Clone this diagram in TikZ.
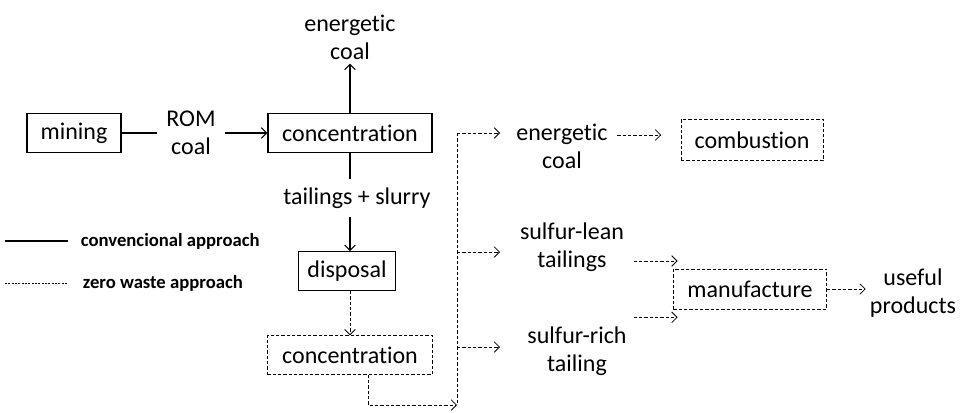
\documentclass[tikz,border=0pt]{standalone}
\usepackage{fontspec}
\setmainfont{Carlito}[Ligatures=NoCommon]
\usetikzlibrary{arrows.meta}

\tikzset{
	txt/.style={font=\fontsize{18}{21}\selectfont, align=center, inner sep=3pt},
	box/.style={txt, draw, line width=0.9pt, minimum height=29pt, inner sep=0pt},
	dbox/.style={box, line width=0.6pt, dash pattern=on 2.5pt off 1.5pt},
	conv/.style={line width=0.8pt, -{Straight Barb[length=4pt,width=8pt]}},
	zw/.style={line width=0.6pt, dash pattern=on 2.5pt off 1.5pt, -{Straight Barb[length=4pt,width=8pt]}},
	legtxt/.style={font=\fontsize{14}{16}\selectfont\bfseries, anchor=west, inner sep=0pt}
}

\begin{document}
\begin{tikzpicture}[x=0.75pt, y=-0.75pt]
		%%%%% START %%%%%
		\useasboundingbox (0, 0) rectangle (962, 412);
		
		% conventional route
		\node[box, minimum width=70.5pt] (mining) at (74, 133) {mining};
		\node[txt, inner xsep=7pt] (rom) at (191, 133) {ROM\\coal};
		\node[box, minimum width=123pt] (conc) at (350, 133) {concentration};
		\node[txt] (ecoal) at (350, 37) {energetic\\coal};
		\node[txt, inner ysep=6pt] (tail) at (357, 198) {tailings + slurry};
		\node[box, minimum width=72.75pt] (disposal) at (347, 271) {disposal};
		
		\draw[line width=0.8pt] (mining.east) -- (rom.west);
		\draw[conv] (rom.east) -- (conc.west);
		\draw[conv] (conc.north) -- (ecoal.south);
		\draw[line width=0.8pt] (conc.south) -- (conc.south |- tail.north);
		\draw[conv] (conc.south |- tail.south) -- (conc.south |- disposal.north);
		
		% zero waste route
		\node[dbox, minimum width=124pt] (conc2) at (350, 355) {concentration};
		\coordinate (bustop) at (457, 133);
		\coordinate (busbot) at (457, 405);
		\node[txt] (ecoal2) at (562, 146) {energetic\\coal};
		\node[txt] (slean) at (572, 247) {sulfur-lean\\tailings};
		\node[txt] (srich) at (577, 351) {sulfur-rich\\tailing};
		\node[dbox, minimum width=106.5pt, minimum height=31pt] (combust) at (752, 140) {combustion};
		\node[dbox, minimum width=115pt, minimum height=30pt] (manuf) at (750, 289) {manufacture};
		\node[txt] (useful) at (913, 293) {useful\\products};
		
		\draw[zw] (conc.south |- disposal.south) -- (conc.south |- conc2.north);
		\draw[zw] ([xshift=13.5pt]conc2.south) |- (busbot);
		\draw[zw, -] (bustop) -- (busbot);
		\draw[zw] (bustop) -- ++(43, 0);
		\draw[zw] (bustop |- slean) ++(0, 5) -- ++(43, 0);
		\draw[zw] (bustop |- srich) ++(0, -4) -- ++(43, 0);
		
		\draw[zw] ([xshift=4pt]ecoal2.east |- combust.west) ++(0, -5) -- ++(44, 0);
		\draw[zw] ([xshift=4pt]slean.east) ++(0, 14) -- ++(44, 0);
		\draw[zw] ([xshift=4pt]slean.east |- srich.north) ++(0, -5) -- ++(44, 0);
		\draw[zw] (manuf.east) -- (manuf.east -| useful.west);
		
		% legend
		\coordinate (solidl) at (5, 241);
		\coordinate (dashl) at (5, 283);
		\draw[line width=1.3pt] (solidl) -- ++(63, 0) node[legtxt, right=9pt] (legconv) {convencional approach};
		\draw[line width=0.4pt, dash pattern=on 1.5pt off 1pt] (dashl) -- ++(63, 0) node[legtxt, right=11pt] (legzw) {zero waste approach};
		%%%%% END %%%%%
	\end{tikzpicture}
\end{document}
